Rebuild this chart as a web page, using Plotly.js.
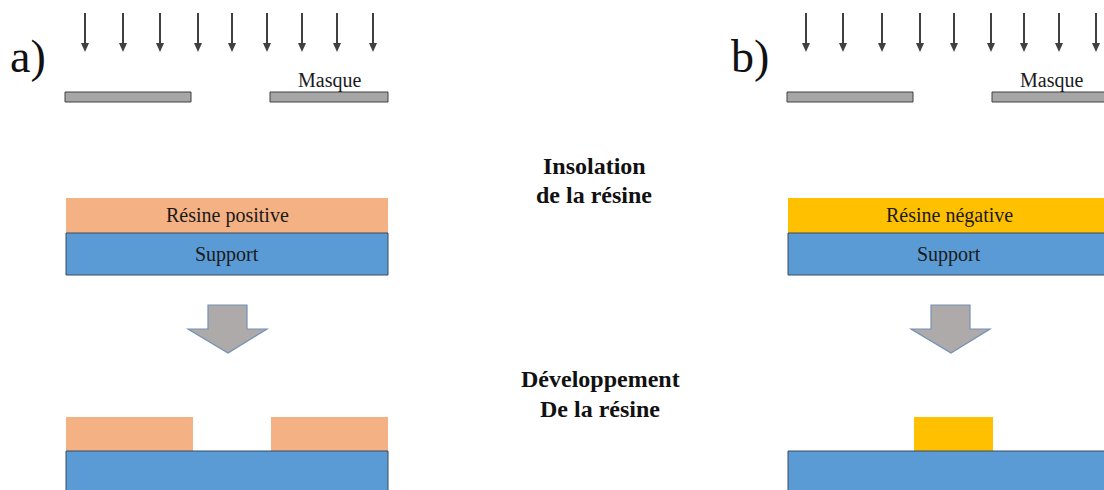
<!DOCTYPE html>
<html><head><meta charset="utf-8">
<script src="https://cdn.plot.ly/plotly-3.0.1.min.js"></script>
<style>html,body{margin:0;padding:0;background:#fff}#c{width:1104px;height:490px}</style>
</head><body><div id="c"></div>
<script>
// Diagram geometry (panel a units, px-like); panel b is shifted by panelOffset
const panelLabels = ['a)', 'b)'];
const panelOffset = [0, 722];
const resinLabels = ['Résine positive', 'Résine négative'];
const resinColors = ['#F4B183', '#FFC000'];
const supportLabel = 'Support';
const maskLabel = 'Masque';
const stepLines = ['Insolation', 'de la résine', 'Développement', 'De la résine'];
const stepX = [594, 594, 600, 600];
const stepY = [166, 195, 379, 409];
const lightX = [85, 123, 160, 198, 232, 267, 302, 337, 373];
const lightXb = [84, 121, 160, 198, 232, 269, 302, 337, 374];
const maskX = [[65, 191], [270, 388]];
const maskY = [92, 102];
const layerX = [66, 388];
const resinY = [198, 233];
const supportY = [233, 275];
const devArrow = {x: [208, 247, 267, 228, 188], y: [305, 329, 353]};
// after development: positive keeps the masked zones, negative keeps the exposed zone
const devResinA = [[66, 193], [271, 388]];
const devResinB = [[191, 270]];
const devResinY = [417, 451];
const devSupportY = [451, 500];

const shapes = [];
const ann = [];
const serif = '"Times New Roman", "Liberation Serif", serif';

panelOffset.forEach((off, p) => {
  const xs = p === 0 ? lightX : lightXb;
  xs.forEach(x0 => {
    const x = x0 + off;
    shapes.push({type: 'line', x0: x, x1: x, y0: 13, y1: 45, line: {color: '#404040', width: 2}});
    shapes.push({type: 'path', path: `M ${x-4} 43 L ${x+4} 43 L ${x} 52 Z`, fillcolor: '#404040', line: {width: 0}});
  });
  maskX.forEach(m => shapes.push({type: 'rect', x0: m[0]+off, x1: m[1]+off, y0: maskY[0], y1: maskY[1],
    fillcolor: '#A6A6A6', line: {color: '#404040', width: 1}}));
  ann.push({x: 329+off, y: 80, text: maskLabel, font: {family: serif, size: 20, color: '#1a1a1a'}});
  ann.push({x: 28+off, y: 56, text: panelLabels[p], font: {family: serif, size: 46, color: '#111'}});
  shapes.push({type: 'rect', x0: layerX[0]+off, x1: layerX[1]+off, y0: resinY[0], y1: resinY[1],
    fillcolor: resinColors[p], line: {width: 0}});
  shapes.push({type: 'rect', x0: layerX[0]+off, x1: layerX[1]+off, y0: supportY[0], y1: supportY[1],
    fillcolor: '#5B9BD5', line: {color: '#3a4a5c', width: 1}});
  ann.push({x: (layerX[0]+layerX[1])/2+off, y: (resinY[0]+resinY[1])/2, text: resinLabels[p], font: {family: serif, size: 20, color: '#1a1a1a'}});
  ann.push({x: (layerX[0]+layerX[1])/2+off, y: (supportY[0]+supportY[1])/2, text: supportLabel, font: {family: serif, size: 20, color: '#1a1a1a'}});
  const d = devArrow, X = d.x.map(v => v + off + (p === 1 ? 1 : 0));
  shapes.push({type: 'path', path: `M ${X[0]} ${d.y[0]} L ${X[1]} ${d.y[0]} L ${X[1]} ${d.y[1]} L ${X[2]} ${d.y[1]} L ${X[3]} ${d.y[2]} L ${X[4]} ${d.y[1]} L ${X[0]} ${d.y[1]} Z`,
    fillcolor: '#AEAAAA', line: {color: '#7391b5', width: 1.2}});
  const blocks = p === 0 ? devResinA : devResinB;
  blocks.forEach(b => shapes.push({type: 'rect', x0: b[0]+off+(p===1?1:0), x1: b[1]+off+(p===1?1:0), y0: devResinY[0], y1: devResinY[1],
    fillcolor: resinColors[p], line: {width: 0}}));
  shapes.push({type: 'rect', x0: layerX[0]+off, x1: layerX[1]+off, y0: devSupportY[0], y1: devSupportY[1],
    fillcolor: '#5B9BD5', line: {color: '#3a4a5c', width: 1}});
});
stepLines.forEach((t, i) => ann.push({x: stepX[i], y: stepY[i], text: '<b>' + t + '</b>',
  font: {family: serif, size: 24, color: '#111'}}));
ann.forEach(a => { a.xref = 'x'; a.yref = 'y'; a.showarrow = false; a.xanchor = 'center'; a.yanchor = 'middle'; });

Plotly.newPlot('c', [{x: [0], y: [0], mode: 'markers', marker: {opacity: 0}, hoverinfo: 'skip', showlegend: false}], {
  width: 1104, height: 490, margin: {l: 0, r: 0, t: 0, b: 0},
  paper_bgcolor: '#fff', plot_bgcolor: '#fff',
  xaxis: {range: [0, 1104], visible: false, fixedrange: true},
  yaxis: {range: [490, 0], visible: false, fixedrange: true},
  shapes: shapes, annotations: ann, showlegend: false
}, {staticPlot: true});
</script></body></html>
